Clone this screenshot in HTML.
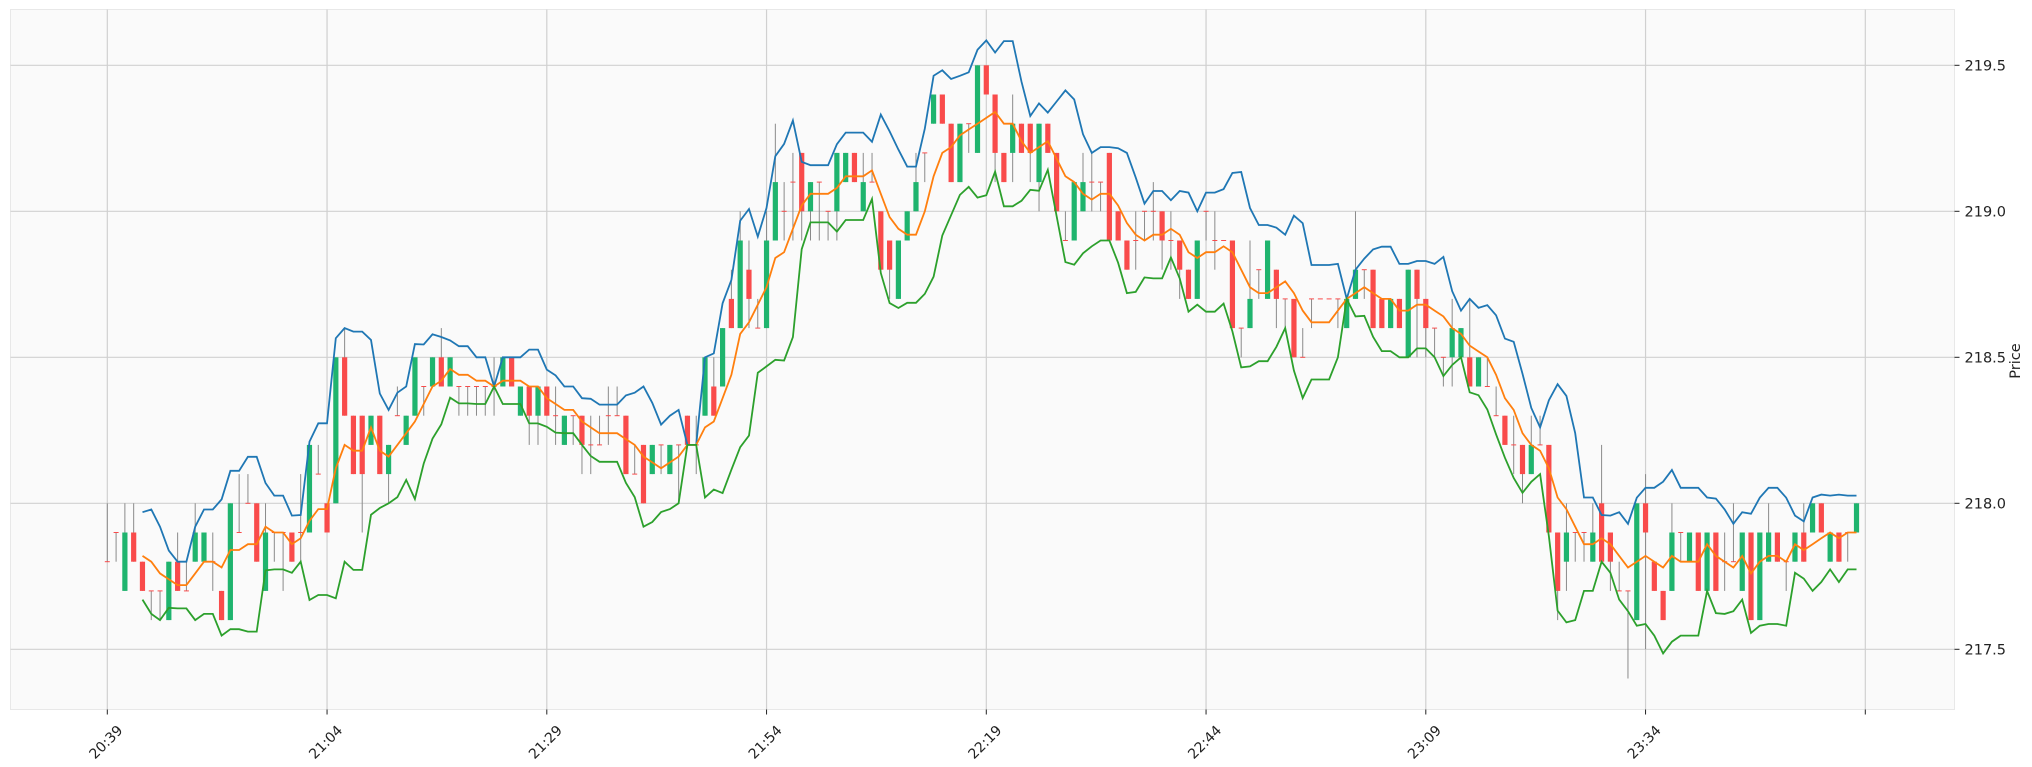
<!DOCTYPE html>
<html><head><meta charset="utf-8">
<style>
html,body{margin:0;padding:0;background:#fff;}
svg{display:block;}
text{font-family:"DejaVu Sans","Liberation Sans",sans-serif;fill:#222;}
</style></head>
<body>
<svg id="c" width="2032" height="767" xmlns="http://www.w3.org/2000/svg"></svg>
<script>
// [open, close, high, low] in tenths above 217.0 ; high/low optional
var D=[
[8,8,10,8],[9,9,9,8],[7,9,10,7],[9,8,10,8],[8,7,8,7],[7,7,7,6],[7,7,7,6],[6,8],[8,7,9,7],[7,7,8,7],
[8,9,10,8],[8,9],[8,8,9,7],[7,6],[6,10],[9,9,11,9],[10,10,11,10],[10,8],[7,9,10,7],[9,9,9,8],
[9,9,9,7],[9,8],[9,9,11,8],[9,12],[11,11,12,11],[10,9],[10,15],[15,13,16,13],[13,11],[13,11,13,9],
[12,13],[13,11],[11,12,12,10],[13,13,14,13],[12,13],[13,15],[14,14,14,13],[14,15],[15,14,16,14],[14,15],
[14,14,14,13],[14,14,14,13],[14,14,14,13],[14,14,14,13],[14,14,15,13],[14,15],[15,14],[13,14],[14,13,14,12],[13,14,14,12],
[14,13],[13,13,14,12],[12,13],[13,13,13,12],[13,12,13,11],[12,12,13,11],[12,12,13,12],[13,13,14,12],[13,13,14,13],[13,11],
[11,11,12,11],[12,10],[11,12],[12,12,12,11],[11,12],[12,12,12,10],[13,12],[12,12,13,11],[13,15],[14,13,15,13],
[14,16],[17,16,18,16],[16,19,20,16],[18,17,19,16],[16,16,17,16],[16,19,20,16],[19,21,23,19],[20,20,21,19],[21,21,22,19],[22,20,22,19],
[20,21,21,19],[21,21,21,19],[20,20,20,19],[20,22,22,19],[21,22],[22,21],[20,21,22,20],[21,21,22,21],[20,18],[19,18,19,17],
[17,19],[19,20],[20,21,22,20],[22,22,22,21],[23,24],[24,23],[23,21],[21,23],[23,23,23,22],[22,25],
[25,24],[24,22,24,21],[22,21],[22,23,24,21],[23,22],[23,22,23,21],[21,23,23,20],[23,22],[22,20],[19,19,20,19],
[19,21],[20,21,22,20],[21,21,22,20],[21,21,21,20],[22,19],[20,19],[19,18],[19,19,20,18],[20,20,20,19],[20,20,21,19],
[20,19,20,18],[19,19,20,18],[19,18,19,17],[18,17],[17,19],[20,20,20,19],[19,19,20,18],[19,19,19,19],[19,16],[16,16,16,15],
[16,17,19,16],[18,18,18,17],[17,19],[18,17,18,16],[17,17,17,16],[17,15],[15,15,16,15],[17,17,17,16],[17,17],[17,17],
[17,17,17,16],[16,17],[17,18,20,17],[18,18,18,17],[18,16],[17,16],[16,17],[17,16],[15,18],[18,17,18,15],
[17,16,17,15],[16,16,16,15],[15,15,15,14],[15,16,17,14],[15,16],[15,14,17,14],[14,15],[14,14,15,14],[13,13,14,13],[13,12],
[12,12,13,11],[12,11,12,10],[11,12,13,11],[12,12,13,12],[12,9],[9,7,9,6],[8,9,10,7],[9,9,9,8],[9,9,9,8],[8,9,10,8],
[10,8,12,8],[9,8,9,7],[7,7,8,7],[7,7,7,4],[6,10],[10,9,11,5],[8,7],[7,6],[7,9,10,7],[9,9,9,8],
[8,9],[9,7],[7,9],[9,7],[8,8,9,7],[8,8,10,8],[7,9],[9,6],[6,9],[8,9,10,8],
[9,8],[8,8,8,7],[8,9],[9,8,10,8],[9,10],[10,9],[8,9],[9,8],[9,9,9,8],[9,10]
];
var NS="http://www.w3.org/2000/svg",S=document.getElementById('c');
function el(t,a,p){var e=document.createElementNS(NS,t);for(var k in a)e.setAttribute(k,a[k]);(p||S).appendChild(e);return e;}
var L=10.5,R=1954.5,T=9.5,B=709.5;
function X(i){return 107.3+8.79*i;}
function Y(v){return 503.3-(v-10)*29.2;} // v in tenths above 217
el('rect',{x:L,y:T,width:R-L,height:B-T,fill:'#fafafa',stroke:'#e8e8e8','stroke-width':1});
// grid
var yt=[[5,'217.5'],[10,'218.0'],[15,'218.5'],[20,'219.0'],[25,'219.5']];
yt.forEach(function(t){var y=Y(t[0]);el('line',{x1:L,x2:R,y1:y,y2:y,stroke:'#d0d0d0','stroke-width':1.2});
 el('line',{x1:R,x2:R+5,y1:y,y2:y,stroke:'#222','stroke-width':1});
 var tx=el('text',{x:R+10,y:y+5,'font-size':'14.5'});tx.textContent=t[1];});
var xl=['20:39','21:04','21:29','21:54','22:19','22:44','23:09','23:34',''];
xl.forEach(function(s,k){var x=X(k*25);el('line',{x1:x,x2:x,y1:T,y2:B,stroke:'#d0d0d0','stroke-width':1.2});
 el('line',{x1:x,x2:x,y1:B,y2:B+5,stroke:'#222','stroke-width':1});
 if(s){var tx=el('text',{x:0,y:0,'font-size':'14','text-anchor':'middle',transform:'translate('+(x+2)+','+(B+36)+') rotate(-45)'});tx.textContent=s;}});
var pl=el('text',{x:0,y:0,'font-size':'14.5','text-anchor':'middle',transform:'translate(2020,361) rotate(-90)'});pl.textContent='Price';
// candles
var g=el('g',{});
D.forEach(function(d,i){var o=d[0],c=d[1],h=d.length>2?d[2]:Math.max(o,c),l=d.length>3?d[3]:Math.min(o,c);
 h=Math.max(h,o,c);l=Math.min(l,o,c);var x=X(i);
 if(h>l)el('line',{x1:x,x2:x,y1:Y(h),y2:Y(l),stroke:'#8a8a8a','stroke-width':1},g);
 var col=c>o?'#1fb46e':'#f94b4b';
 if(o==c){el('rect',{x:x-2.5,y:Y(c)-0.5,width:5,height:1,fill:'#f94b4b'},g);}
 else el('rect',{x:x-2.6,y:Y(Math.max(o,c)),width:5.2,height:Math.abs(o-c)*29.2,fill:col},g);
});
// bollinger 5,2
var mid=[],up=[],lo=[];
for(var i=4;i<D.length;i++){var s=0,q=0;for(var j=i-4;j<=i;j++)s+=D[j][1];var m=s/5;for(j=i-4;j<=i;j++)q+=(D[j][1]-m)*(D[j][1]-m);var sd=Math.sqrt(q/5);
 mid.push(X(i).toFixed(1)+','+Y(m).toFixed(1));up.push(X(i).toFixed(1)+','+Y(m+2*sd).toFixed(1));lo.push(X(i).toFixed(1)+','+Y(m-2*sd).toFixed(1));}
el('polyline',{points:up.join(' '),fill:'none',stroke:'#1f77b4','stroke-width':1.8});
el('polyline',{points:mid.join(' '),fill:'none',stroke:'#ff7f0e','stroke-width':1.8});
el('polyline',{points:lo.join(' '),fill:'none',stroke:'#2ca02c','stroke-width':1.8});
</script>
</body></html>
